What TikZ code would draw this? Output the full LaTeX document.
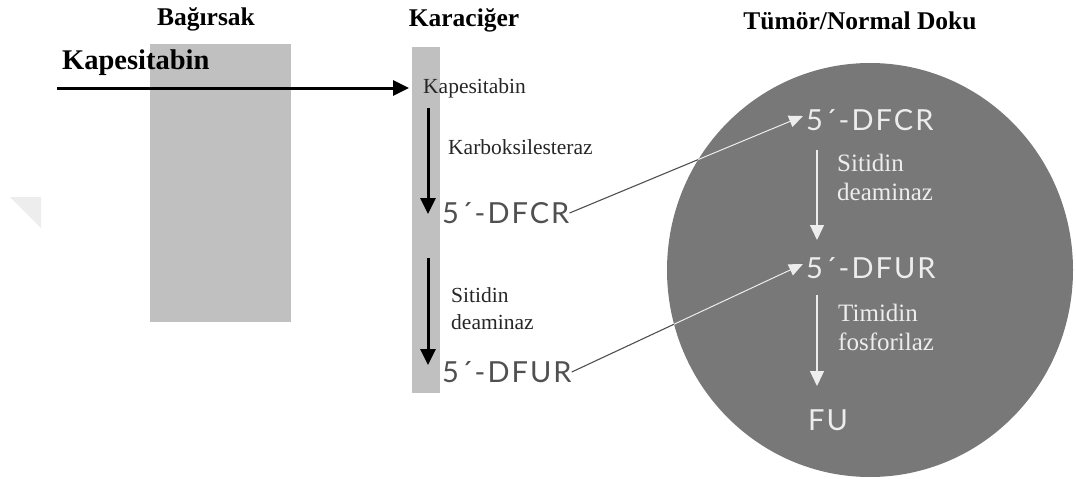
\documentclass[tikz,border=0pt]{standalone}
\usepackage{fontspec}
\setmainfont{Liberation Serif}
\newfontfamily\latosp{Lato}[LetterSpace=7]
\usetikzlibrary{arrows.meta}
\definecolor{colgray}{HTML}{C0C0C0}
\definecolor{circgray}{HTML}{787878}
\definecolor{txtgray}{HTML}{505050}
\definecolor{txtwhite}{HTML}{EDEDED}
\tikzset{
  header/.style={font=\fontsize{25.5}{30}\selectfont\bfseries, inner sep=0pt},
  livertxt/.style={font=\fontsize{21.5}{25}\selectfont, inner sep=0pt, anchor=west, text=black!85},
  tumortxt/.style={font=\fontsize{25}{29}\selectfont, inner sep=0pt, anchor=west, text=txtwhite},
  molliver/.style={font=\fontsize{29}{33}\selectfont\latosp, inner sep=0pt, anchor=west, text=txtgray},
  moltumor/.style={font=\fontsize{29}{33}\selectfont\latosp, inner sep=0pt, anchor=west, text=txtwhite},
  blackarrow/.style={line width=3pt, -{Triangle[length=16pt,width=15pt]}},
  whitearrow/.style={line width=1.3pt, draw=txtwhite, -{Triangle[length=15pt,width=14pt]}},
  conn/.style={line width=1.1pt},
}
\begin{document}
\begin{tikzpicture}[x=1pt,y=-1pt]
\useasboundingbox (0,0) rectangle (1076,479);
% faint watermark
\fill[black!7] (10,197) -- (41,197) -- (41,228) -- cycle;
% regions
\fill[colgray] (150,44) rectangle (291,322);
\fill[colgray] (412,47) rectangle (440,393);
\fill[circgray] (870,270) ellipse [x radius=203, y radius=207];
% headers
\node[header] (hb) at (206,19) {Bağırsak};
\node[header] (hk) at (464,20) {Karaciğer};
\node[header] (ht) at (860,21) {Tümör/Normal Doku};
\node[font=\fontsize{28.5}{32}\selectfont\bfseries, inner sep=0pt, anchor=west] (kbold) at (62,63) {Kapesitabin};
% liver
\coordinate (start) at (57,88);
\node[livertxt] (lkap) at (423,88) {Kapesitabin};
\draw[blackarrow] (start) -- ([xshift=-14pt]lkap.west);
\coordinate (a1s) at (428,108);
\coordinate (a1e) at (428,214);
\draw[blackarrow] (a1s) -- (a1e);
\node[livertxt] (karb) at (448,147) {Karboksilesteraz};
\node[molliver] (ldfcr) at (442,213) {5´-DFCR};
\coordinate (a2s) at (428,258);
\coordinate (a2e) at (428,365);
\draw[blackarrow] (a2s) -- (a2e);
\node[livertxt] (lsit) at (451,295) {Sitidin};
\node[livertxt] (ldea) at (451,322) {deaminaz};
\node[molliver] (ldfur) at (442,372) {5´-DFUR};
% tumor
\node[moltumor] (tdfcr) at (806,120) {5´-DFCR};
\coordinate (w1s) at (817,150);
\coordinate (w1e) at (817,240);
\draw[whitearrow] (w1s) -- (w1e);
\node[tumortxt] (tsit) at (837,163) {Sitidin};
\node[tumortxt] (tdea) at (837,192) {deaminaz};
\node[moltumor] (tdfur) at (806,268) {5´-DFUR};
\coordinate (w2s) at (817,295);
\coordinate (w2e) at (817,386);
\draw[whitearrow] (w2s) -- (w2e);
\node[tumortxt] (ttim) at (838,313) {Timidin};
\node[tumortxt] (tfos) at (838,342) {fosforilaz};
\node[moltumor] (tfu) at (808,420) {FU};
% connectors
\coordinate (c1s) at ([xshift=0pt]ldfcr.east);
\coordinate (c1e) at ([xshift=-3pt,yshift=4pt]tdfcr.west);
\coordinate (c2s) at ([xshift=0pt]ldfur.east);
\coordinate (c2e) at ([xshift=-3pt,yshift=4pt]tdfur.west);
\draw[conn, draw=txtgray] (c1s) -- (c1e);
\draw[conn, draw=txtgray] (c2s) -- (c2e);
\begin{scope}
\clip (870,270) ellipse [x radius=203, y radius=207];
\draw[conn, draw=txtwhite, -{Triangle[length=14pt,width=12pt]}] (c1s) -- (c1e);
\draw[conn, draw=txtwhite, -{Triangle[length=14pt,width=12pt]}] (c2s) -- (c2e);
\end{scope}
\end{tikzpicture}
\end{document}
